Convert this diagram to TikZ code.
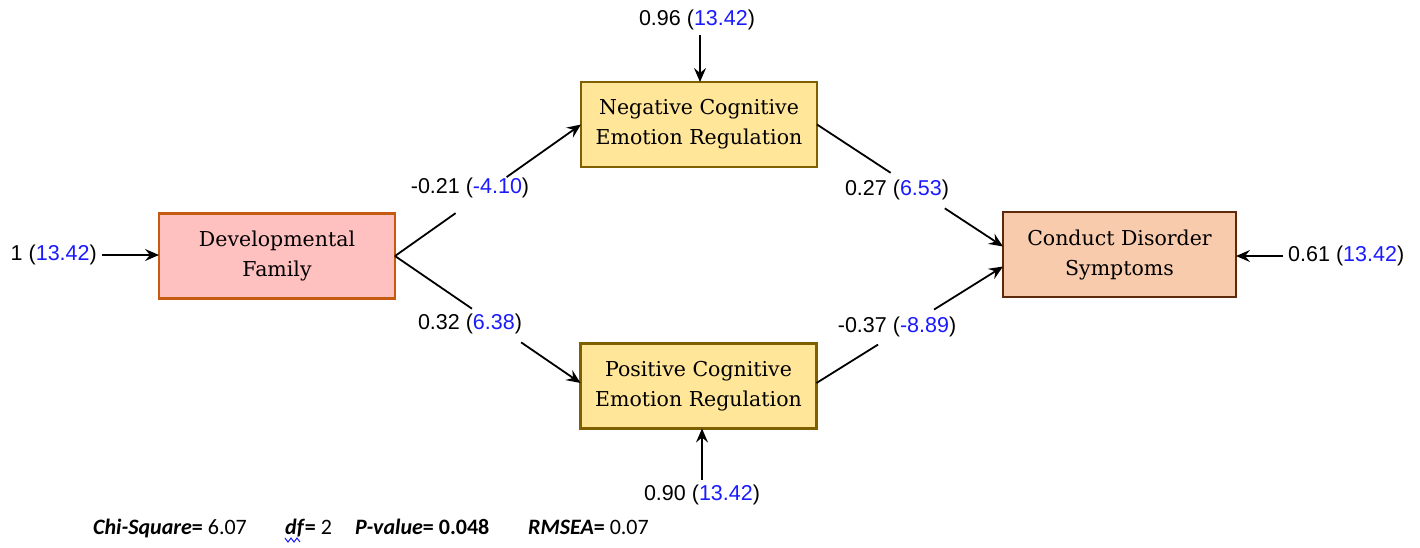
\documentclass[tikz,border=0pt]{standalone}
\usepackage{fontspec}
\setmainfont{DejaVu Serif}
\newfontfamily\lblfont{Liberation Sans}
\newfontfamily\footfont{Carlito}
\usetikzlibrary{arrows.meta,calc}
\definecolor{devfill}{HTML}{FFC0C0}
\definecolor{devline}{HTML}{C55A11}
\definecolor{ylwfill}{HTML}{FFE699}
\definecolor{ylwline}{HTML}{7F6000}
\definecolor{cdfill}{HTML}{F8CBAD}
\definecolor{cdline}{HTML}{5E2A0C}
\definecolor{numblue}{HTML}{1A1AFF}
\newcommand{\bl}[1]{\textcolor{numblue}{#1}}
\tikzset{
  box/.style={draw, line width=2.8pt, inner sep=0pt, outer sep=0pt,
    minimum width=236pt, minimum height=85pt, align=center,
    font=\fontsize{20.5}{30}\selectfont},
  lbl/.style={font=\lblfont\fontsize{21.5}{25}\selectfont, inner sep=5pt, text=black},
  conn/.style={line width=1.8pt},
  arr/.style={line width=1.8pt, -{Stealth[length=14pt,width=12pt,inset=5pt]}},
  foot/.style={font=\footfont\fontsize{22}{26}\selectfont, anchor=base west, inner sep=0pt}
}
\begin{document}
\begin{tikzpicture}[x=1pt,y=-1pt]
\useasboundingbox (0,0) rectangle (1420,547);
% boxes
\node[box, fill=devfill, draw=devline] (dev) at (277,256) {Developmental\\Family};
\node[box, fill=ylwfill, draw=ylwline] (neg) at (699,124.5) {Negative Cognitive\\Emotion Regulation};
\node[box, fill=ylwfill, draw=ylwline] (pos) at (698.5,386) {Positive Cognitive\\Emotion Regulation};
\node[box, fill=cdfill, draw=cdline, minimum width=233pt] (cd) at (1119.5,254.5) {Conduct Disorder\\Symptoms};
% residual labels
\node[lbl, anchor=east] (rdev) at (102,255) {1 (\bl{13.42})};
\node[lbl] (rneg) at (697,20) {0.96 (\bl{13.42})};
\node[lbl] (rpos) at (702,495) {0.90 (\bl{13.42})};
\node[lbl, anchor=west] (rcd) at (1283,256) {0.61 (\bl{13.42})};
% residual arrows
\draw[arr] (rdev.east) -- (dev.west |- rdev.east);
\draw[arr] ($(rneg.south)+(3,0)$) -- ($(neg.north)+(1,0)$);
\draw[arr] (rpos.north) -- (pos.south -| rpos.north);
\draw[arr] (rcd.west) -- (cd.east |- rcd.west);
% path labels
\node[lbl] (e1) at (470,188) {-0.21 (\bl{-4.10})};
\node[lbl] (e2) at (470,324) {0.32 (\bl{6.38})};
\node[lbl] (e3) at (897,190) {0.27 (\bl{6.53})};
\node[lbl] (e4) at (897,327) {-0.37 (\bl{-8.89})};
% paths
\coordinate (cdA) at ($(cd.west)+(0,-8)$);
\coordinate (cdB) at ($(cd.west)+(0,12)$);
\coordinate (posW) at ($(pos.west)+(0,-3)$);
\coordinate (posE) at ($(pos.east)+(0,-3)$);
\draw[conn] (dev.east) -- ($(dev.east)!0.326!(neg.west)$);
\draw[arr] ($(dev.east)!0.60!(neg.west)$) -- (neg.west);
\draw[conn] (dev.east) -- ($(dev.east)!0.415!(posW)$);
\draw[arr] ($(dev.east)!0.68!(posW)$) -- (posW);
\draw[conn] (neg.east) -- ($(neg.east)!0.396!(cdA)$);
\draw[arr] ($(neg.east)!0.687!(cdA)$) -- (cdA);
\draw[conn] (posE) -- ($(posE)!0.33!(cdB)$);
\draw[arr] ($(posE)!0.63!(cdB)$) -- (cdB);
% footer
\node[foot] (f1) at (93,534) {\textbf{\textit{Chi-Square}}\textbf{=} 6.07};
\node[foot] (f2) at (285,534) {\textbf{\textit{df}}\textbf{=} 2};
\node[foot] (f3) at (355,534) {\textbf{\textit{P-value}}\textbf{= 0.048}};
\node[foot] (f4) at (528,534) {\textbf{\textit{RMSEA}}\textbf{=} 0.07};
\draw[numblue, line width=1pt] (285,538) -- (288,542) -- (291,538) -- (294,542) -- (297,538) -- (300,542);
\end{tikzpicture}
\end{document}
